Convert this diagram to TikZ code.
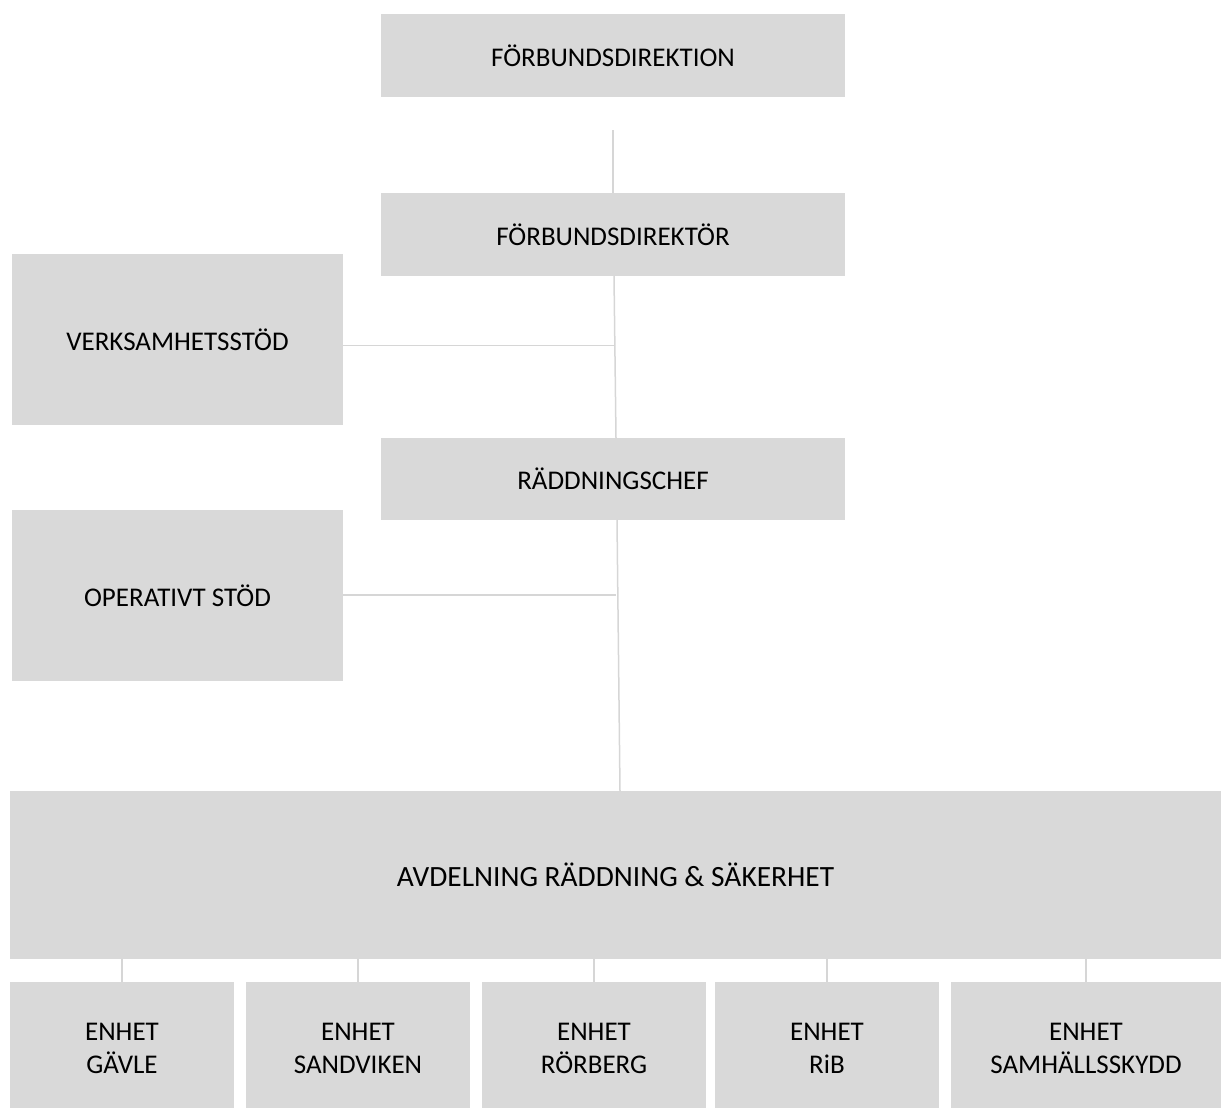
\documentclass[tikz,border=0pt]{standalone}
\usepackage{fontspec}
\setmainfont{Carlito}
\newcommand{\unitlabel}[1]{\rule{0pt}{14.5pt}ENHET\\\vphantom{Äg}#1}
\begin{document}
\begin{tikzpicture}[x=0.5pt, y=-0.5pt,
    box/.style={fill=boxgray, inner sep=0pt, align=center,
      font=\fontsize{13.5}{16.5}\selectfont},
    link/.style={draw=linegray, line width=0.75pt}]
    \definecolor{boxgray}{HTML}{D9D9D9}
    \definecolor{linegray}{HTML}{D6D6D6}
    \useasboundingbox (0, 0) rectangle (1221, 1108);

    \node [box, minimum width=232pt, minimum height=41.5pt] (direktion) at (613, 55.5) {FÖRBUNDSDIREKTION};
    \node [box, minimum width=232pt, minimum height=41.5pt] (direktor) at (613, 234.5) {FÖRBUNDSDIREKTÖR};
    \node [box, minimum width=232pt, minimum height=41pt] (chef) at (613, 479) {RÄDDNINGSCHEF};
    \node [box, minimum width=165.5pt, minimum height=85.5pt] (verksamhet) at (177.5, 339.5) {VERKSAMHETSSTÖD};
    \node [box, minimum width=165.5pt, minimum height=85.5pt] (operativt) at (177.5, 595.5) {OPERATIVT STÖD};
    \node [box, minimum width=605.5pt, minimum height=84pt, font=\fontsize{14.7}{17}\selectfont] (avdelning) at (615.5, 875) {AVDELNING RÄDDNING \& SÄKERHET};

    \node [box, minimum width=112pt, minimum height=63pt] (gavle) at (122, 1045) {\unitlabel{GÄVLE}};
    \node [box, minimum width=112pt, minimum height=63pt] (sandviken) at (358, 1045) {\unitlabel{SANDVIKEN}};
    \node [box, minimum width=112pt, minimum height=63pt] (rorberg) at (594, 1045) {\unitlabel{RÖRBERG}};
    \node [box, minimum width=112pt, minimum height=63pt] (rib) at (827, 1045) {\unitlabel{RiB}};
    \node [box, minimum width=135pt, minimum height=63pt] (samhalle) at (1086, 1045) {\unitlabel{SAMHÄLLSSKYDD}};

    \coordinate (topStart) at (613, 130);
    \coordinate (verkJoin) at (615, 345.5);
    \coordinate (opJoin) at (616, 595);

    \draw [link] (topStart) -- (direktor.north);
    \draw [link] (614, 276) -- (616, 438);
    \draw [link] (617, 520) -- (620, 791);
    \draw [link] (verksamhet.east |- verkJoin) -- (verkJoin);
    \draw [link] (operativt.east |- opJoin) -- (opJoin);

    \foreach \unit in {gavle, sandviken, rorberg, rib, samhalle}
        \draw [link] (\unit.north) -- (\unit.north |- avdelning.south);
\end{tikzpicture}
\end{document}
